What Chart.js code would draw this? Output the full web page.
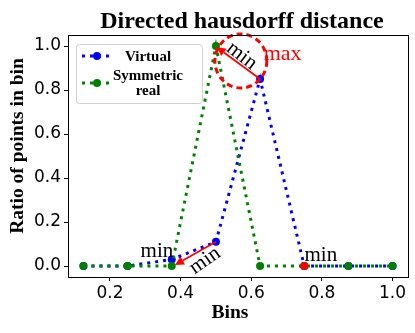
<!DOCTYPE html>
<html>
<head>
<meta charset="utf-8">
<script src="https://cdn.jsdelivr.net/npm/chart.js@4.4.1/dist/chart.umd.min.js"></script>
<style>
html,body{margin:0;padding:0;background:#fff;}
#wrap{width:415px;height:333px;position:relative;}
</style>
</head>
<body>
<div id="wrap"><canvas id="c" width="415" height="333"></canvas></div>
<script>
// ---- data ----
const bins = [0.125, 0.25, 0.375, 0.5, 0.625, 0.75, 0.875, 1.0];
const virtualRatio = [0, 0, 0.03, 0.11, 0.85, 0, 0, 0];
const symmetricRealRatio = [0, 0, 0, 1.0, 0, 0, 0, 0];
const xTickValues = [0.2, 0.4, 0.6, 0.8, 1.0];
const yTickValues = [0.0, 0.2, 0.4, 0.6, 0.8, 1.0];
const seriesLabels = ['Virtual', 'Symmetric\nreal'];
const titleText = 'Directed hausdorff distance';
const xTitle = 'Bins';
const yTitle = 'Ratio of points in bin';

// annotations (data coordinates)
const arrows = [
  {from: [0.5, 0.11], to: [0.384, 0.005]},
  {from: [0.625, 0.85], to: [0.502, 0.995]}
];
const redPoints = [[0.75, 0]];
const minLabels = [
  {text: 'min', at: [0.333, 0.068], rot: 0},
  {text: 'min', at: [0.797, 0.048], rot: 0},
  {text: 'min', at: [0.573, 0.955], rot: 38},
  {text: 'min', at: [0.469, 0.025], rot: -35}
];
const maxLabel = {text: 'max', at: [0.689, 0.962]};
const ellipse = {center: [0.5706, 0.932], rx: 0.0735, ry: 0.123, rot: 0};

const toXY = (arr) => bins.map((b, i) => ({x: b, y: arr[i]}));

const SERIF = '"Liberation Serif", "Times New Roman", serif';
const SANS = '"DejaVu Sans", sans-serif';

const annotPlugin = {
  id: 'annot',
  afterDatasetsDraw(chart) {
    const ctx = chart.ctx, xs = chart.scales.x, ys = chart.scales.y;
    const px = v => xs.getPixelForValue(v), py = v => ys.getPixelForValue(v);
    ctx.save();
    // ellipse
    ctx.strokeStyle = '#ff0000';
    ctx.lineWidth = 3;
    ctx.setLineDash([6, 4]);
    ctx.beginPath();
    const ex = px(ellipse.center[0]), ey = py(ellipse.center[1]);
    const erx = Math.abs(px(ellipse.center[0] + ellipse.rx) - ex);
    const ery = Math.abs(py(ellipse.center[1] + ellipse.ry) - ey);
    ctx.ellipse(ex, ey, erx, ery, ellipse.rot * Math.PI / 180, 0, Math.PI * 2);
    ctx.stroke();
    ctx.setLineDash([]);
    // arrows
    arrows.forEach(a => {
      const x1 = px(a.from[0]), y1 = py(a.from[1]);
      const x2 = px(a.to[0]), y2 = py(a.to[1]);
      const ang = Math.atan2(y2 - y1, x2 - x1);
      const hl = 9, hw = 4.5;
      const bx = x2 - hl * Math.cos(ang), by = y2 - hl * Math.sin(ang);
      ctx.strokeStyle = '#ff0000';
      ctx.fillStyle = '#ff0000';
      ctx.lineWidth = 1.8;
      ctx.beginPath();
      ctx.moveTo(x1, y1);
      ctx.lineTo(bx, by);
      ctx.stroke();
      ctx.beginPath();
      ctx.moveTo(x2, y2);
      ctx.lineTo(bx + hw * Math.sin(ang), by - hw * Math.cos(ang));
      ctx.lineTo(bx - hw * Math.sin(ang), by + hw * Math.cos(ang));
      ctx.closePath();
      ctx.fill();
    });
    // red points
    redPoints.forEach(p => {
      ctx.fillStyle = '#ff0000';
      ctx.beginPath();
      ctx.arc(px(p[0]), py(p[1]), 4, 0, Math.PI * 2);
      ctx.fill();
    });
    // min labels
    ctx.fillStyle = '#000';
    ctx.font = '21px ' + SERIF;
    ctx.textAlign = 'center';
    ctx.textBaseline = 'middle';
    minLabels.forEach(l => {
      ctx.save();
      ctx.translate(px(l.at[0]), py(l.at[1]));
      ctx.rotate(l.rot * Math.PI / 180);
      ctx.fillText(l.text, 0, 0);
      ctx.restore();
    });
    ctx.fillStyle = '#ff0000';
    ctx.font = '22px ' + SERIF;
    ctx.fillText(maxLabel.text, px(maxLabel.at[0]), py(maxLabel.at[1]));
    ctx.restore();
  },
  afterDraw(chart) {
    const ctx = chart.ctx, a = chart.chartArea;
    ctx.save();
    // frame
    ctx.strokeStyle = '#000';
    ctx.lineWidth = 1;
    ctx.strokeRect(Math.round(a.left) + 0.5, Math.round(a.top) + 0.5, Math.round(a.right - a.left), Math.round(a.bottom - a.top));
    // title
    ctx.fillStyle = '#000';
    ctx.font = 'bold 24px ' + SERIF;
    ctx.textAlign = 'center';
    ctx.textBaseline = 'alphabetic';
    ctx.fillText(titleText, (a.left + a.right) / 2 + 4, 28);
    // axis titles
    ctx.font = 'bold 19.5px ' + SERIF;
    ctx.textBaseline = 'middle';
    ctx.fillText(xTitle, (a.left + a.right) / 2 - 8, 313);
    ctx.save();
    ctx.translate(18, (a.top + a.bottom) / 2 - 10);
    ctx.rotate(-Math.PI / 2);
    ctx.fillText(yTitle, 0, 0);
    ctx.restore();
    // legend
    const lx = a.left + 8, ly = a.top + 9, lw = 126, lh = 59;
    ctx.fillStyle = 'rgba(255,255,255,0.85)';
    ctx.strokeStyle = '#d0d0d0';
    ctx.lineWidth = 1;
    ctx.beginPath();
    ctx.roundRect(lx + 0.5, ly + 0.5, lw, lh, 3);
    ctx.fill();
    ctx.stroke();
    const ds = chart.data.datasets;
    const rows = [ly + 12, ly + 39];
    const textY = [[ly + 13], [ly + 32, ly + 47]];
    ds.forEach((d, i) => {
      const y = rows[i];
      ctx.strokeStyle = d.borderColor;
      ctx.lineWidth = 3;
      ctx.setLineDash([3, 5]);
      ctx.beginPath();
      ctx.moveTo(lx + 6, y);
      ctx.lineTo(lx + 36, y);
      ctx.stroke();
      ctx.setLineDash([]);
      ctx.fillStyle = d.pointBackgroundColor;
      ctx.beginPath();
      ctx.arc(lx + 21, y, 4, 0, Math.PI * 2);
      ctx.fill();
      ctx.fillStyle = '#000';
      ctx.font = 'bold 15px ' + SERIF;
      ctx.textAlign = 'center';
      ctx.textBaseline = 'middle';
      d.label.split('\n').forEach((t, k) => ctx.fillText(t, lx + 72, textY[i][k]));
    });
    ctx.restore();
  }
};

new Chart(document.getElementById('c'), {
  type: 'scatter',
  data: {
    datasets: [
      {
        label: seriesLabels[0],
        data: toXY(virtualRatio),
        showLine: true,
        borderColor: '#0000ff',
        backgroundColor: '#0000ff',
        pointBackgroundColor: '#0000ff',
        pointBorderColor: '#0000ff',
        borderWidth: 3,
        borderDash: [3, 5],
        pointRadius: 4,
        pointBorderWidth: 0,
        order: 1
      },
      {
        label: seriesLabels[1],
        data: toXY(symmetricRealRatio),
        showLine: true,
        borderColor: '#008000',
        backgroundColor: '#008000',
        pointBackgroundColor: '#008000',
        pointBorderColor: '#008000',
        borderWidth: 3,
        borderDash: [3, 5],
        pointRadius: 4,
        pointBorderWidth: 0,
        order: 0
      }
    ]
  },
  options: {
    responsive: false,
    animation: false,
    devicePixelRatio: 1,
    layout: {padding: {left: 0, right: 7, top: 35, bottom: 0}},
    plugins: {legend: {display: false}, tooltip: {enabled: false}, title: {display: false}},
    scales: {
      x: {
        type: 'linear',
        min: 0.08125, max: 1.04375,
        afterBuildTicks: s => { s.ticks = xTickValues.map(v => ({value: v})); },
        afterFit: s => { s.height = 56; },
        ticks: {
          font: {family: SANS, size: 17},
          color: '#000',
          padding: 2,
          maxRotation: 0,
          callback: v => Number(v).toFixed(1)
        },
        grid: {display: true, drawOnChartArea: false, drawTicks: true, tickLength: 4, color: '#000'},
        border: {display: true, color: '#000'},
        title: {display: false}
      },
      y: {
        type: 'linear',
        min: -0.05, max: 1.05,
        afterBuildTicks: s => { s.ticks = yTickValues.map(v => ({value: v})); },
        afterFit: s => { s.width = 68; },
        ticks: {
          font: {family: SANS, size: 17},
          color: '#000',
          padding: 3,
          callback: v => Number(v).toFixed(1)
        },
        grid: {display: true, drawOnChartArea: false, drawTicks: true, tickLength: 4, color: '#000'},
        border: {display: true, color: '#000'},
        title: {display: false}
      }
    }
  },
  plugins: [annotPlugin]
});
</script>
</body>
</html>
